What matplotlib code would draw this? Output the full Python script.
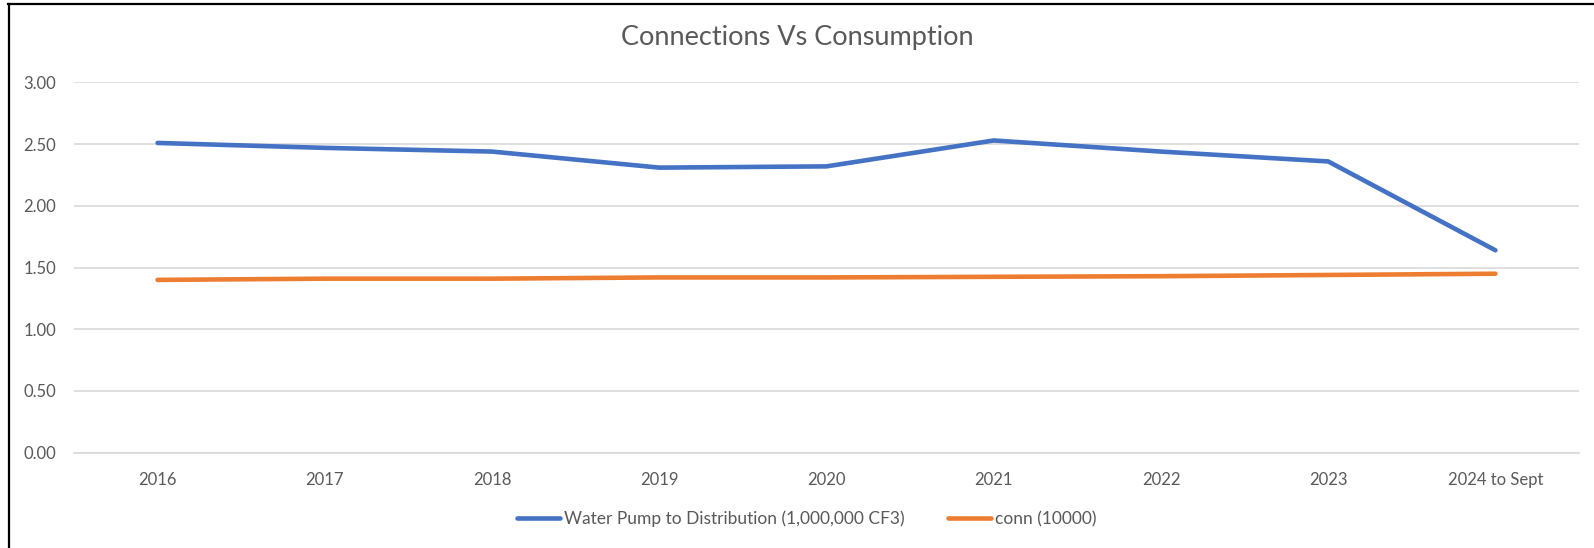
import matplotlib.pyplot as plt
from matplotlib.lines import Line2D

plt.rcParams['font.family'] = ['Lato', 'DejaVu Sans']

years = ['2016', '2017', '2018', '2019', '2020', '2021', '2022', '2023', '2024 to Sept']
pump = [2.51, 2.47, 2.44, 2.31, 2.32, 2.53, 2.44, 2.36, 1.64]
conn = [1.40, 1.41, 1.41, 1.42, 1.42, 1.425, 1.43, 1.44, 1.45]

text_col = '#595959'
grid_col = '#D9D9D9'

fig = plt.figure(figsize=(15.94, 5.48), dpi=100)
ax = fig.add_axes([0.0464, 0.174, 0.9442, 0.6755])

x = range(len(years))
ax.plot(x, pump, color='#4472C4', lw=3.3, solid_capstyle='round', solid_joinstyle='round',
        label='Water Pump to Distribution (1,000,000 CF3)')
ax.plot(x, conn, color='#ED7D31', lw=3.3, solid_capstyle='round', solid_joinstyle='round',
        label='conn (10000)')

ax.set_xlim(-0.5, len(years) - 0.5)
ax.set_ylim(0, 3)
ax.set_yticks([0, 0.5, 1, 1.5, 2, 2.5, 3])
ax.set_yticklabels(['%.2f' % v for v in [0, 0.5, 1, 1.5, 2, 2.5, 3]])
ax.set_xticks(list(x))
ax.set_xticklabels(years)
ax.tick_params(axis='both', length=0, labelsize=12, colors=text_col)
ax.tick_params(axis='x', pad=14)
ax.tick_params(axis='y', pad=13)
ax.grid(axis='y', color=grid_col, lw=1.2)
ax.set_axisbelow(True)
for s in ['top', 'right', 'left']:
    ax.spines[s].set_visible(False)
ax.spines['bottom'].set_color(grid_col)
ax.spines['bottom'].set_linewidth(1.2)

fig.text(0.5, 1 - 38 / 548, 'Connections Vs Consumption', ha='center', va='center',
         fontsize=19.5, color=text_col)

ax.legend(loc='center', bbox_to_anchor=(0.506, (548 - 519) / 548), bbox_transform=fig.transFigure,
          ncol=2, frameon=False, fontsize=12.5, labelcolor=text_col, handlelength=2.5,
          handletextpad=0.2, columnspacing=2.5)

# chart frame: only top and left edges visible
fig.add_artist(Line2D([8 / 1594, 1], [1 - 4 / 548, 1 - 4 / 548], color='black', lw=1.6))
fig.add_artist(Line2D([8.5 / 1594, 8.5 / 1594], [0, 1 - 4 / 548], color='black', lw=1.6))

fig.savefig('out.png', dpi=100)
